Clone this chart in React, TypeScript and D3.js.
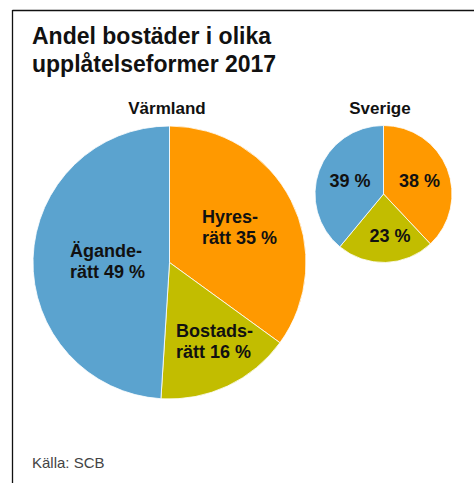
import React from "react";
import * as d3 from "d3";

const categories = ["Hyresrätt", "Bostadsrätt", "Äganderätt"];
const colors = ["#FF9900", "#C2BD00", "#5BA3CF"];
const varmlandValues = [35, 16, 49];
const sverigeValues = [38, 23, 39];
const varmlandLabels = [["Hyres-", "rätt 35 %"], ["Bostads-", "rätt 16 %"], ["Ägande-", "rätt 49 %"]];
const sverigeLabels = [["38 %"], ["23 %"], ["39 %"]];
const titleLines = ["Andel bostäder i olika", "upplåtelseformer 2017"];
const source = "Källa: SCB";

const FONT = "'Liberation Sans', Arial, Helvetica, sans-serif";

type PieProps = {
  cx: number; cy: number; r: number; values: number[]; labels: string[][];
  labelPos: [number, number][]; anchor: "start" | "middle"; fontSize: number; lineH: number; title: string; titleX: number;
};

function Pie({ cx, cy, r, values, labels, labelPos, anchor, fontSize, lineH, title, titleX }: PieProps) {
  const pie = d3.pie<number>().sort(null).value((d) => d);
  const arcs = pie(values);
  const arc = d3.arc<d3.PieArcDatum<number>>().innerRadius(0).outerRadius(r);
  return (
    <g>
      <text x={titleX} y={113.5} textAnchor="middle" fontFamily={FONT} fontWeight="bold" fontSize={17} fill="#111">{title}</text>
      <g transform={`translate(${cx},${cy})`}>
        {arcs.map((a, i) => (
          <path key={i} d={arc(a) || ""} fill={colors[i]} stroke="#fff" strokeWidth={0.8} />
        ))}
      </g>
      {labels.map((lines, i) => (
        <text key={i} x={labelPos[i][0]} y={labelPos[i][1]} textAnchor={anchor} fontFamily={FONT} fontWeight="bold" fontSize={fontSize} fill="#111">
          {lines.map((l, j) => (
            <tspan key={j} x={labelPos[i][0]} dy={j === 0 ? 0 : lineH}>{l}</tspan>
          ))}
        </text>
      ))}
    </g>
  );
}

export default function App() {
  return (
    <svg width={474} height={483} style={{ position: "absolute", left: 0, top: 0 }}>
      <rect width={474} height={483} fill="#fff" />
      <line x1={12.5} y1={10.5} x2={474} y2={10.5} stroke="#111" strokeWidth={1.3} />
      <line x1={12.5} y1={10} x2={12.5} y2={483} stroke="#111" strokeWidth={1.3} />
      {titleLines.map((t, i) => (
        <text key={i} x={32} y={44 + i * 28} fontFamily={FONT} fontWeight="bold" fontSize={23} fill="#111">{t}</text>
      ))}
      <Pie cx={169.5} cy={262.5} r={136.5} values={varmlandValues} labels={varmlandLabels}
        labelPos={[[202, 223], [176, 337], [70, 257]]} anchor="start" fontSize={18} lineH={21}
        title="Värmland" titleX={167} />
      <Pie cx={383.5} cy={194} r={68.5} values={sverigeValues} labels={sverigeLabels}
        labelPos={[[419.5, 187], [390, 242], [350, 187]]} anchor="middle" fontSize={18} lineH={21}
        title="Sverige" titleX={380} />
      <text x={32} y={468} fontFamily={FONT} fontSize={15} fill="#444">{source}</text>
    </svg>
  );
}
